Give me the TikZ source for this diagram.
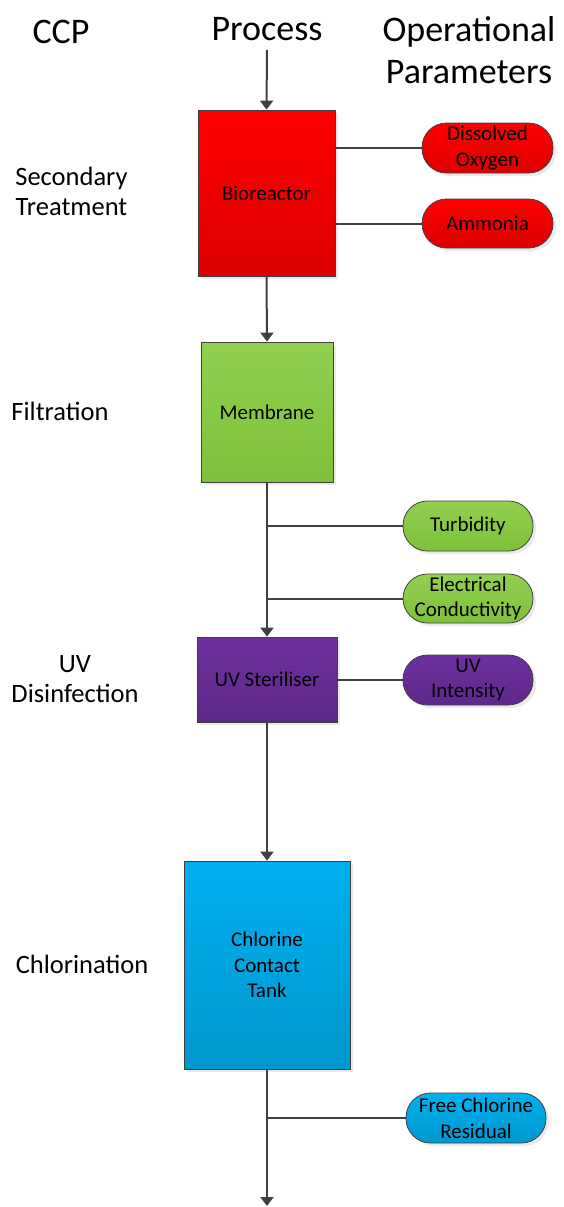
\documentclass[tikz,border=0pt]{standalone}
\usepackage{fontspec}
\setmainfont{Carlito}
\usetikzlibrary{arrows.meta,shadows}
\definecolor{ln}{HTML}{404040}
\definecolor{redT}{HTML}{FF0000}
\definecolor{redB}{HTML}{DC0000}
\definecolor{grnT}{HTML}{92D050}
\definecolor{grnB}{HTML}{7DC13A}
\definecolor{purT}{HTML}{7030A0}
\definecolor{purB}{HTML}{5E2889}
\definecolor{bluT}{HTML}{00B0F0}
\definecolor{bluB}{HTML}{0097CE}
\begin{document}
\begin{tikzpicture}[x=1pt,y=-1pt,
  proc/.style={draw=ln, line width=0.8pt, inner sep=2pt, align=center,
    font=\fontsize{21}{25.6}\selectfont,
    drop shadow={shadow xshift=3pt,shadow yshift=-3pt,fill=black!16}},
  param/.style={proc, rounded corners=24.5pt},
  redfill/.style={top color=redT, bottom color=redB},
  grnfill/.style={top color=grnT, bottom color=grnB},
  purfill/.style={top color=purT, bottom color=purB},
  blufill/.style={top color=bluT, bottom color=bluB},
  flow/.style={draw=ln, line width=2pt, -{Triangle[length=9pt,width=13pt]}},
  conn/.style={draw=ln, line width=2pt},
  hdr/.style={font=\fontsize{36}{42}\selectfont, align=center, inner sep=0pt},
  ccp/.style={font=\fontsize{26.5}{30.5}\selectfont, align=center, inner sep=0pt}]
\useasboundingbox (0,0) rectangle (563,1207);

% headings
\node[hdr] (hccp) at (61,31.5) {CCP};
\node[hdr] (hproc) at (267,29) {Process};
\node[hdr] (hpar) at (469,50) {Operational\\Parameters};

% CCP labels
\node[ccp] (lsec) at (71.5,191.5) {Secondary\\Treatment};
\node[ccp] (lfil) at (60,411) {Filtration};
\node[ccp] (luv) at (75,679) {UV\\Disinfection};
\node[ccp] (lchl) at (82,964) {Chlorination};

% process boxes
\node[proc, redfill, minimum width=137pt, minimum height=166pt] (bio) at (266.5,193) {Bioreactor};
\node[proc, grnfill, minimum width=132pt, minimum height=140pt] (mem) at (267,412) {Membrane};
\node[proc, purfill, minimum width=140pt, minimum height=85pt] (uv) at (267,679.5) {UV Steriliser};
\node[proc, blufill, minimum width=166pt, minimum height=208pt] (cl) at (267,965) {Chlorine\\Contact\\Tank};

% parameters
\node[param, redfill, minimum width=131pt, minimum height=50pt] (do) at (487.5,148) {Dissolved\\Oxygen};
\node[param, redfill, minimum width=131pt, minimum height=49pt] (nh) at (487.5,223.5) {Ammonia};
\node[param, grnfill, minimum width=130pt, minimum height=50pt] (turb) at (468,526) {Turbidity};
\node[param, grnfill, minimum width=130pt, minimum height=49pt] (ec) at (468,598.5) {Electrical\\Conductivity};
\node[param, purfill, minimum width=130pt, minimum height=50pt] (uvi) at (468,680) {UV\\Intensity};
\node[param, blufill, minimum width=140pt, minimum height=50pt] (fcr) at (476,1118) {Free Chlorine\\Residual};

\coordinate (start) at (267,50);
\coordinate (finish) at (267,1206);

% main flow
\draw[flow] (start) -- (bio.north);
\draw[flow] (bio.south) -- (mem.north);
\draw[flow] (mem.south) -- (uv.north);
\draw[flow] (uv.south) -- (cl.north);
\draw[flow] (cl.south) -- (finish);

% parameter connectors
\draw[conn] (do.west -| bio.east) -- (do.west);
\draw[conn] (nh.west -| bio.east) -- (nh.west);
\draw[conn] (mem.south |- turb.west) -- (turb.west);
\draw[conn] (mem.south |- ec.west) -- (ec.west);
\draw[conn] (uvi.west -| uv.east) -- (uvi.west);
\draw[conn] (cl.south |- fcr.west) -- (fcr.west);
\end{tikzpicture}
\end{document}
